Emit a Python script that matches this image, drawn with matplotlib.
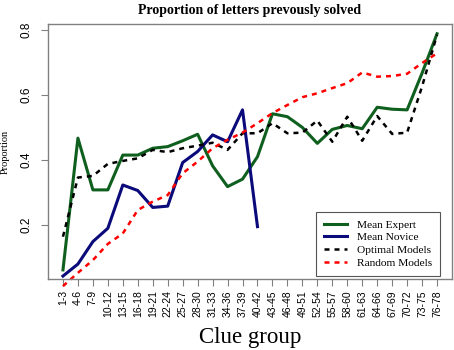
import matplotlib
matplotlib.use('Agg')
import matplotlib.pyplot as plt
import numpy as np

# Clue groups
groups = ['1-3', '4-6', '7-9', '10-12', '13-15', '16-18', '19-21', '22-24', '25-27',
          '28-30', '31-33', '34-36', '37-39', '40-42', '43-45', '46-48', '49-51',
          '52-54', '55-57', '58-60', '61-63', '64-66', '67-69', '70-72', '73-75', '76-78']

mean_expert = [0.062, 0.467, 0.308, 0.308, 0.415, 0.415, 0.436, 0.441, 0.459, 0.479,
               0.382, 0.318, 0.341, 0.410, 0.542, 0.533, 0.500, 0.451, 0.494, 0.506,
               0.496, 0.562, 0.556, 0.554, 0.667, 0.788]
mean_novice = [0.043, 0.080, 0.149, 0.190, 0.323, 0.306, 0.254, 0.258, 0.392, 0.426,
               0.477, 0.456, 0.554, 0.195]
optimal = [0.164, 0.346, 0.351, 0.388, 0.397, 0.405, 0.431, 0.424, 0.436, 0.444,
           0.453, 0.431, 0.482, 0.482, 0.513, 0.482, 0.484, 0.521, 0.456, 0.533,
           0.459, 0.535, 0.480, 0.484, 0.626, 0.785]
random_models = [0.012, 0.053, 0.092, 0.142, 0.174, 0.246, 0.272, 0.292, 0.359, 0.395,
                 0.436, 0.462, 0.484, 0.513, 0.544, 0.569, 0.593, 0.605, 0.621, 0.636,
                 0.669, 0.656, 0.658, 0.665, 0.698, 0.728]

serif = 'Liberation Serif'
sans = 'Liberation Sans'

fig = plt.figure(figsize=(4.54, 3.5), dpi=100)
ax = fig.add_axes([48/454, 71/350, 404/454, 255/350])

x = np.arange(len(groups))
ax.plot(x, mean_expert, color='#0f5f1f', lw=2.2, label='Mean Expert')
ax.plot(x[:len(mean_novice)], mean_novice, color='#0a0a7a', lw=2.2, label='Mean Novice')
ax.plot(x, optimal, color='black', lw=1.8, ls=(0, (2, 2)), label='Optimal Models')
ax.plot(x, random_models, color='red', lw=1.8, ls=(0, (2, 2)), label='Random Models',
        clip_on=False)

ax.set_xlim(-1, 26)
ax.set_ylim(0.034, 0.818)

for s in ax.spines.values():
    s.set_color('#808080')
    s.set_linewidth(1.0)

ax.set_xticks(x)
ax.set_xticklabels(groups, rotation=90, fontsize=7.5, family=sans)
ax.set_yticks([0.2, 0.4, 0.6, 0.8])
ax.set_yticklabels(['0.2', '0.4', '0.6', '0.8'], rotation=90, va='center',
                   fontsize=8.5, family=sans)
ax.tick_params(direction='out', length=5, color='#808080', pad=3)
ax.tick_params(axis='y', pad=6)

ax.set_title('Proportion of letters prevously solved', family=serif,
             fontweight='bold', fontsize=10, pad=7)
ax.set_ylabel('Proportion', family=serif, fontsize=7.5, labelpad=8)
ax.set_xlabel('Clue group', family=serif, fontsize=16.5, labelpad=7)

leg = ax.legend(loc='lower right', bbox_to_anchor=(0.97, 0.012), borderaxespad=0,
                prop={'family': serif, 'size': 8.2},
                fancybox=False, edgecolor='#555555', framealpha=1,
                handlelength=2.0, labelspacing=0.25, borderpad=0.7, handletextpad=0.9)
leg.get_frame().set_linewidth(0.8)

fig.savefig('out.png', dpi=100)
